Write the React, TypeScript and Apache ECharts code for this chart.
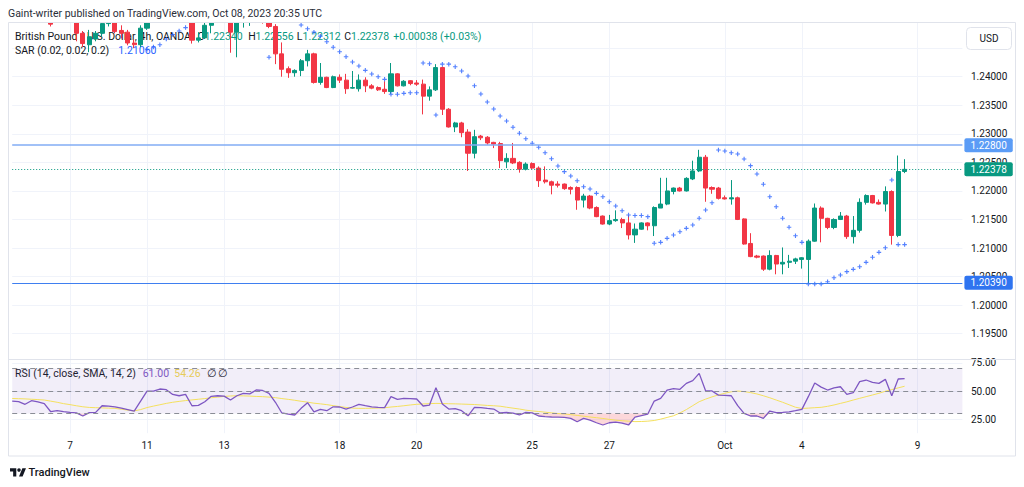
import React, { useEffect, useRef } from "react";
import * as echarts from "echarts";

// ---------- data (4h bars, GBP/USD, OANDA) ----------
// [open, high, low, close]
const candles: number[][] = [
  [1.2560,1.2575,1.2550,1.2556],[1.2556,1.2562,1.2546,1.2553],[1.2553,1.2560,1.2540,1.2545],[1.2545,1.2560,1.2542,1.2554],
  [1.2554,1.2558,1.2540,1.2546],[1.2546,1.2550,1.2528,1.2534],[1.2534,1.2538,1.2488,1.2492],[1.2497,1.2508,1.2497,1.2500],
  [1.2500,1.2506,1.2497,1.2498],[1.2498,1.2508,1.2494,1.2503],[1.2503,1.2506,1.2462,1.2476],[1.2476,1.2480,1.2452,1.2458],
  [1.2456,1.2482,1.2443,1.2470],[1.2466,1.2480,1.2462,1.2476],[1.2476,1.2500,1.2470,1.2493],[1.2493,1.2508,1.2488,1.2498],
  [1.2498,1.2503,1.2476,1.2479],[1.2481,1.2490,1.2467,1.2476],[1.2478,1.2482,1.2455,1.2459],[1.2459,1.2465,1.2450,1.2456],
  [1.2456,1.2490,1.2452,1.2485],[1.2485,1.2520,1.2482,1.2512],[1.2512,1.2525,1.2505,1.2514],[1.2514,1.2530,1.2508,1.2522],
  [1.2522,1.2535,1.2512,1.2518],[1.2518,1.2522,1.2502,1.2506],[1.2506,1.2512,1.2498,1.2502],[1.2502,1.2512,1.2499,1.2507],
  [1.2507,1.2512,1.2458,1.2464],[1.2464,1.2478,1.2460,1.2468],[1.2468,1.2496,1.2466,1.2490],[1.2490,1.2508,1.2476,1.2504],
  [1.2504,1.2512,1.2494,1.2508],[1.2508,1.2515,1.2500,1.2506],[1.2506,1.2510,1.2442,1.2478],[1.2478,1.2500,1.2434,1.2496],
  [1.2496,1.2510,1.2486,1.2502],[1.2502,1.2508,1.2489,1.2505],[1.2505,1.2520,1.2494,1.2498],[1.2498,1.2512,1.2493,1.2496],
  [1.2496,1.2506,1.2485,1.2488],[1.2488,1.2492,1.2422,1.2440],[1.2440,1.2460,1.2400,1.2413],[1.2414,1.2418,1.2398,1.2407],
  [1.2407,1.2413,1.2400,1.2411],[1.2411,1.2431,1.2401,1.2428],[1.2428,1.2447,1.2418,1.2440],[1.2440,1.2442,1.2388,1.2390],
  [1.2390,1.2424,1.2386,1.2399],[1.2399,1.2400,1.2380,1.2381],[1.2381,1.2402,1.2380,1.2400],[1.2399,1.2404,1.2389,1.2394],
  [1.2394,1.2405,1.2370,1.2379],[1.2380,1.2410,1.2379,1.2381],[1.2379,1.2404,1.2374,1.2394],[1.2394,1.2399,1.2373,1.2384],
  [1.2384,1.2387,1.2378,1.2380],[1.2381,1.2383,1.2375,1.2377],[1.2378,1.2392,1.2370,1.2374],[1.2374,1.2424,1.2370,1.2405],
  [1.2405,1.2406,1.2383,1.2384],[1.2384,1.2394,1.2383,1.2392],[1.2393,1.2394,1.2385,1.2388],[1.2389,1.2394,1.2384,1.2387],
  [1.2387,1.2395,1.2334,1.2366],[1.2366,1.2383,1.2358,1.2377],[1.2377,1.2422,1.2375,1.2416],[1.2416,1.2418,1.2333,1.2343],
  [1.2343,1.2345,1.2311,1.2312],[1.2312,1.2321,1.2303,1.2319],[1.2319,1.2321,1.2294,1.2302],[1.2303,1.2308,1.2235,1.2266],
  [1.2266,1.2307,1.2257,1.2295],[1.2296,1.2298,1.2289,1.2293],[1.2294,1.2296,1.2281,1.2284],[1.2285,1.2286,1.2275,1.2282],
  [1.2283,1.2286,1.2240,1.2253],[1.2251,1.2266,1.2240,1.2257],[1.2257,1.2284,1.2247,1.2249],[1.2250,1.2252,1.2232,1.2238],
  [1.2238,1.2250,1.2236,1.2247],[1.2248,1.2250,1.2238,1.2240],[1.2240,1.2243,1.2207,1.2218],[1.2219,1.2243,1.2213,1.2216],
  [1.2216,1.2218,1.2194,1.2210],[1.2212,1.2217,1.2206,1.2210],[1.2212,1.2213,1.2202,1.2204],[1.2206,1.2208,1.2194,1.2203],
  [1.2206,1.2208,1.2167,1.2184],[1.2184,1.2195,1.2171,1.2191],[1.2191,1.2193,1.2168,1.2170],[1.2171,1.2173,1.2154,1.2155],
  [1.2156,1.2157,1.2141,1.2142],[1.2142,1.2158,1.2140,1.2148],[1.2148,1.2166,1.2146,1.2150],[1.2150,1.2153,1.2135,1.2144],
  [1.2144,1.2157,1.2115,1.2123],[1.2123,1.2143,1.2109,1.2133],[1.2133,1.2145,1.2132,1.2144],[1.2144,1.2145,1.2131,1.2139],
  [1.2139,1.2173,1.2121,1.2171],[1.2170,1.2223,1.2170,1.2177],[1.2177,1.2223,1.2175,1.2200],[1.2199,1.2206,1.2194,1.2205],
  [1.2205,1.2207,1.2199,1.2200],[1.2200,1.2224,1.2199,1.2222],[1.2221,1.2253,1.2219,1.2235],[1.2235,1.2272,1.2233,1.2259],
  [1.2259,1.2263,1.2181,1.2205],[1.2206,1.2208,1.2195,1.2203],[1.2205,1.2207,1.2185,1.2187],[1.2188,1.2192,1.2185,1.2186],
  [1.2186,1.2219,1.2176,1.2188],[1.2188,1.2190,1.2149,1.2150],[1.2151,1.2152,1.2106,1.2107],[1.2108,1.2126,1.2084,1.2085],
  [1.2086,1.2088,1.2082,1.2084],[1.2086,1.2087,1.2060,1.2063],[1.2063,1.2096,1.2061,1.2087],[1.2087,1.2088,1.2054,1.2072],
  [1.2072,1.2101,1.2054,1.2075],[1.2075,1.2088,1.2065,1.2077],[1.2077,1.2083,1.2072,1.2081],[1.2080,1.2084,1.2064,1.2083],
  [1.2080,1.2115,1.2037,1.2112],[1.2112,1.2178,1.2111,1.2170],[1.2170,1.2173,1.2110,1.2152],[1.2152,1.2153,1.2133,1.2136],
  [1.2136,1.2152,1.2133,1.2150],[1.2150,1.2163,1.2149,1.2156],[1.2156,1.2158,1.2116,1.2120],[1.2120,1.2156,1.2108,1.2131],
  [1.2131,1.2187,1.2127,1.2180],[1.2180,1.2194,1.2176,1.2192],[1.2192,1.2193,1.2178,1.2179],[1.2180,1.2185,1.2176,1.2177],
  [1.2177,1.2208,1.2164,1.2199],[1.2199,1.2201,1.2106,1.2122],[1.2122,1.2262,1.2119,1.2234],[1.22340,1.22556,1.22312,1.22378],
];

const sarValues: number[] = [
  1.2620,1.2612,1.2605,1.2598,1.2591,1.2584,1.2577,1.2570,1.2563,1.2557,
  1.2551,1.2545,1.2540,1.2535,1.2530,1.2526,1.2522,1.2518,1.2515,1.2512,
  1.2510,1.2448,1.2452,1.2456,1.2466,1.2474,1.2480,1.2486,1.2535,1.2533,
  1.2530,1.2528,1.2526,1.2524,1.2522,1.2521,1.2520,1.2519,1.2518,1.2517,
  1.2434,1.2520,1.2512,1.2505,1.2499,1.24905,1.2484,1.2478,1.2471,1.24613,
  1.24515,1.24438,1.2435,1.24257,1.24187,1.24112,1.24047,1.2400,1.23954,1.23692,
  1.23692,1.23709,1.2372,1.2372,1.2424,1.24228,1.2333,1.2422,1.2422,1.24175,
  1.2410,1.24012,1.23842,1.23697,1.23557,1.23434,1.23312,1.23224,1.23114,1.23009,
  1.22914,1.22834,1.22764,1.22669,1.22564,1.22436,1.22337,1.22261,1.22179,1.22074,
  1.22034,1.21958,1.21899,1.21811,1.21736,1.21654,1.21578,1.2157,1.2157,1.2155,
  1.21083,1.2110,1.2117,1.21228,1.21286,1.21345,1.21403,1.21521,1.21666,1.21794,
  1.22717,1.2270,1.22669,1.22646,1.22559,1.22442,1.22296,1.22116,1.21899,1.21724,
  1.21521,1.21363,1.21216,1.2110,1.2037,1.2037,1.2037,1.2041,1.2048,1.20528,
  1.20586,1.20627,1.20673,1.2075,1.20838,1.20925,1.21006,1.22191,1.2106,1.2106,
];

const rsiValues: number[] = [
  41.1,40.5,38.2,41.4,40.3,38.8,31.6,32.5,31.6,31.0,
  30.5,27.8,30.8,31.0,36.9,36.5,36.0,34.8,33.5,32.2,
  41.0,50.0,50.0,51.8,51.2,47.0,45.8,47.0,36.9,37.2,
  40.5,45.3,45.8,45.5,42.0,45.8,48.0,47.5,50.9,50.5,
  48.0,40.0,30.5,29.5,28.7,34.6,39.6,31.5,33.7,32.5,
  36.0,35.8,33.9,35.8,38.2,37.0,36.0,35.4,35.2,45.0,
  42.6,43.5,43.2,42.9,36.7,37.5,52.9,38.5,34.0,34.3,
  32.5,28.0,35.5,35.2,34.5,34.0,30.5,30.9,30.4,28.7,
  31.0,30.5,27.8,27.3,26.9,26.8,26.5,25.7,22.7,25.7,
  24.2,21.8,19.8,21.8,22.4,21.5,19.8,26.8,28.2,29.5,
  41.1,43.5,50.9,52.1,51.5,56.8,59.2,65.7,50.3,50.1,
  46.4,46.2,45.8,37.0,30.2,27.8,27.8,25.7,32.2,30.7,
  31.0,31.5,32.5,33.7,45.0,57.2,53.5,50.9,52.9,53.8,
  47.0,48.5,58.3,59.8,57.7,56.8,60.4,45.8,60.7,61.0,
];

const rsiMaValues: number[] = [
  43.4,43.2,43.0,42.7,42.4,42.0,41.0,40.0,38.8,37.9,
  36.9,36.0,35.4,35.2,35.0,34.8,34.6,33.8,33.0,32.3,
  33.5,35.3,36.6,37.8,39.0,40.0,40.8,41.5,42.1,42.7,
  43.3,44.0,44.6,45.2,45.6,45.8,45.7,45.5,45.2,45.0,
  44.6,44.1,43.3,42.6,41.8,40.9,40.1,39.2,38.6,37.9,
  37.0,36.2,35.4,34.8,34.6,34.6,34.7,34.9,35.1,35.8,
  36.3,36.9,37.6,38.2,38.5,38.8,39.0,38.9,38.7,38.6,
  38.4,38.2,38.0,37.6,37.2,36.9,36.5,35.6,34.8,34.0,
  33.0,32.3,31.8,31.2,30.6,30.0,29.6,29.0,28.3,27.6,
  26.9,26.3,25.6,24.8,24.1,23.6,23.2,22.8,22.9,23.2,
  23.8,25.0,26.5,28.0,30.5,33.5,37.0,40.5,42.8,44.8,
  46.6,48.0,49.3,50.0,49.5,48.6,47.4,45.8,44.0,42.0,
  40.0,37.8,35.6,34.5,34.8,35.2,35.5,36.4,37.6,39.0,
  40.4,42.0,43.5,45.0,46.5,48.0,49.8,51.3,52.8,54.26,
];

const keyLevels: number[] = [1.228, 1.2039];
const rsiLevels: number[] = [70, 50, 30];
const rsiAxisLabels: number[] = [25, 50, 75];
const tickDates: string[] = ["2023-09-07","2023-09-11","2023-09-13","2023-09-18","2023-09-20","2023-09-25","2023-09-27","2023-10-02","2023-10-04","2023-10-09"];
const tickTexts: string[] = ["7","11","13","18","20","25","27","Oct","4","9"];
const FIRST_BAR_UTC = Date.UTC(2023, 8, 5, 13);
const FUTURE_SLOTS = 9;

const HEADER = "Gaint-writer published on TradingView.com, Oct 08, 2023 20:35 UTC";
const SYMBOL_TITLE = "British Pound / U.S. Dollar, 4h, OANDA";
const SAR_TITLE = "SAR (0.02, 0.02, 0.2)";
const RSI_TITLE = "RSI (14, close, SMA, 14, 2)";

// ---------- helpers ----------
function buildSlots(count: number): string[] {
  const out: string[] = [];
  let t = FIRST_BAR_UTC;
  const step = 4 * 3600 * 1000;
  while (out.length < count) {
    const d = new Date(t);
    const dow = d.getUTCDay();
    const h = d.getUTCHours();
    const closed = (dow === 5 && h >= 21) || dow === 6 || (dow === 0 && h < 21);
    if (!closed) out.push(d.toISOString().slice(0, 13));
    t += step;
  }
  return out;
}

const UP = "#089981";
const DOWN = "#f23645";
const GRID = "#f0f3fa";
const BORDER = "#e0e3eb";
const TEXT = "#131722";
const FONT = "Roboto";

let logoRegistered = false;

export default function App() {
  const ref = useRef<HTMLDivElement>(null);

  useEffect(() => {
    if (!ref.current) return;
    if (!logoRegistered) {
      echarts.graphic.registerShape(
        "tvlogo",
        echarts.graphic.extendPath(
          "M14 22H7V11H0V4h14v18zM28 22h-8l7.5-18h8L28 22zM24 8a4 4 0 1 1-8 0a4 4 0 1 1 8 0z",
          {}
        )
      );
      logoRegistered = true;
    }
    const chart = echarts.init(ref.current, undefined, { renderer: "svg" });

    const slots = buildSlots(candles.length + FUTURE_SLOTS);
    const tickMap: Record<string, string> = {};
    tickDates.forEach((d, i) => (tickMap[d + "T01"] = tickTexts[i]));
    const isTick = (_idx: number, val: string) => tickMap[val] !== undefined;

    const last = candles[candles.length - 1];
    const prevClose = candles[candles.length - 2][3];
    const change = last[3] - prevClose;
    const pct = (change / prevClose) * 100;
    const lastSar = sarValues[sarValues.length - 1];
    const lastRsi = rsiValues[rsiValues.length - 1];
    const lastMa = rsiMaValues[rsiMaValues.length - 1];

    const gridLeft = 12.2;
    const gridRight = 61.6;

    const txt = (x: number, y: number, text: string, fill: string, fontSize = 10.5, extra: any = {}, z = 1) => ({
      type: "text",
      x,
      y,
      z,
      silent: true,
      style: { text, fill, fontSize, fontFamily: FONT, verticalAlign: "middle", align: "left", ...extra },
    });

    const option: any = {
      animation: false,
      backgroundColor: "#ffffff",
      grid: [
        { left: gridLeft, right: gridRight, top: 22, height: 337, outerBoundsMode: "none", containLabel: false },
        { left: gridLeft, right: gridRight, top: 360, height: 73.2, outerBoundsMode: "none", containLabel: false },
      ],
      xAxis: [
        {
          type: "category",
          gridIndex: 0,
          data: slots,
          boundaryGap: false,
          axisLine: { show: false },
          axisTick: { show: false },
          axisLabel: { show: false },
          splitLine: { show: true, interval: isTick, lineStyle: { color: GRID, width: 1 } },
        },
        {
          type: "category",
          gridIndex: 1,
          data: slots,
          boundaryGap: false,
          axisLine: { show: false },
          axisTick: { show: false },
          axisLabel: {
            show: true,
            interval: isTick,
            formatter: (v: string) => tickMap[v] ?? "",
            color: TEXT,
            fontSize: 10,
            fontFamily: FONT,
            margin: 7,
          },
          splitLine: { show: true, interval: isTick, lineStyle: { color: GRID, width: 1 } },
        },
      ],
      yAxis: [
        {
          type: "value",
          gridIndex: 0,
          position: "right",
          min: 1.19057,
          max: 1.24958,
          splitNumber: 12,
          axisLine: { show: false },
          axisTick: { show: false },
          splitLine: { show: true, lineStyle: { color: GRID, width: 1 } },
          axisLabel: {
            color: TEXT,
            fontSize: 10,
            fontFamily: FONT,
            margin: 8.6,
            showMinLabel: false,
            showMaxLabel: false,
            formatter: (v: number) => (v > 1.2426 ? "" : v.toFixed(5)),
          },
        },
        {
          type: "value",
          gridIndex: 1,
          position: "right",
          min: 12.5,
          max: 77.6,
          interval: 12.5,
          axisLine: { show: false },
          axisTick: { show: false },
          splitLine: {
            show: true,
            lineStyle: { color: ["transparent", GRID, "transparent", GRID, "transparent", GRID, "transparent"] },
          },
          axisLabel: {
            color: TEXT,
            fontSize: 10,
            fontFamily: FONT,
            margin: 8.6,
            showMaxLabel: false,
            formatter: (v: number) => (rsiAxisLabels.indexOf(v) >= 0 ? v.toFixed(2) : ""),
          },
        },
      ],
      series: [
        {
          type: "candlestick",
          xAxisIndex: 0,
          yAxisIndex: 0,
          clip: true,
          barWidth: 4.6,
          data: candles.map(([o, h, l, c]) => [o, c, l, h]),
          itemStyle: { color: UP, color0: DOWN, borderColor: UP, borderColor0: DOWN, borderWidth: 1 },
          z: 3,
        },
        {
          type: "scatter",
          xAxisIndex: 0,
          yAxisIndex: 0,
          clip: true,
          symbol: "path://M1.5,0H2.5V1.5H4V2.5H2.5V4H1.5V2.5H0V1.5H1.5Z",
          symbolSize: 4.5,
          itemStyle: { color: "#2962ff" },
          data: sarValues,
          z: 4,
        },
        {
          type: "line",
          xAxisIndex: 0,
          yAxisIndex: 0,
          data: [],
          clip: false,
          z: 5,
          markLine: {
            silent: true,
            precision: 5,
            symbol: ["none", "none"],
            label: {
              show: true,
              position: "end",
              distance: 2,
              formatter: (p: any) => Number(p.value).toFixed(5),
              color: "#ffffff",
              fontSize: 10,
              fontFamily: FONT,
              padding: [2, 6, 2, 6],
              borderRadius: 2,
            },
            data: [
              { yAxis: keyLevels[0], lineStyle: { color: "#82acf5", width: 1.5, type: "solid" }, label: { backgroundColor: "#5b9cf6" } },
              { yAxis: keyLevels[1], lineStyle: { color: "#3f7ff0", width: 1.2, type: "solid" }, label: { backgroundColor: "#2f74f0" } },
              { yAxis: last[3], lineStyle: { color: UP, width: 1, type: [1, 2] }, label: { backgroundColor: UP } },
            ],
          },
        },
        {
          type: "line",
          xAxisIndex: 1,
          yAxisIndex: 1,
          stack: "os",
          data: rsiValues.map((v) => Math.min(v, 30)),
          showSymbol: false,
          lineStyle: { width: 0, opacity: 0 },
          silent: true,
          z: 2,
        },
        {
          type: "line",
          xAxisIndex: 1,
          yAxisIndex: 1,
          stack: "os",
          data: rsiValues.map((v) => 30 - Math.min(v, 30)),
          showSymbol: false,
          lineStyle: { width: 0, opacity: 0 },
          areaStyle: { color: "rgba(242,54,69,0.2)", opacity: 1 },
          silent: true,
          z: 2,
        },
        {
          type: "line",
          xAxisIndex: 1,
          yAxisIndex: 1,
          data: rsiValues,
          showSymbol: false,
          lineStyle: { color: "#7e57c2", width: 1.3 },
          z: 4,
          markArea: {
            silent: true,
            itemStyle: { color: "rgba(126,87,194,0.1)" },
            data: [[{ yAxis: rsiLevels[0] }, { yAxis: rsiLevels[2] }]],
          },
          markLine: {
            silent: true,
            symbol: ["none", "none"],
            label: { show: false },
            lineStyle: { color: "#8a8d96", width: 1, type: [5, 4] },
            data: rsiLevels.map((v) => ({ yAxis: v })),
          },
        },
        {
          type: "line",
          xAxisIndex: 1,
          yAxisIndex: 1,
          data: rsiMaValues,
          showSymbol: false,
          lineStyle: { color: "#f4e05e", width: 1 },
          z: 3,
        },
      ],
      graphic: [
        { type: "rect", silent: true, z: 100, shape: { x: 0, y: 0, width: 1024, height: 22 }, style: { fill: "#ffffff" } },
        { type: "rect", silent: true, z: 101, shape: { x: 8.5, y: 22.5, width: 1007, height: 433.5 }, style: { fill: "none", stroke: BORDER, lineWidth: 1 } },
        { type: "line", silent: true, z: 101, shape: { x1: 8, y1: 359.5, x2: 1016, y2: 359.5 }, style: { stroke: BORDER, lineWidth: 1 } },
        { type: "rect", silent: true, shape: { x: 966.5, y: 27.5, width: 45, height: 22, r: 4 }, style: { fill: "#ffffff", stroke: BORDER, lineWidth: 1 } },
        txt(989, 38.5, "USD", TEXT, 10, { align: "center" }),
        txt(8, 13, HEADER, "#2a2e39", 10.5, {}, 102),
        txt(15, 36, SYMBOL_TITLE, TEXT, 10.5),
        txt(197.5, 36, "O", TEXT, 10.5),
        txt(204.5, 36, last[0].toFixed(5), UP, 10.5),
        txt(248.3, 36, "H", TEXT, 10.5),
        txt(255.5, 36, last[1].toFixed(5), UP, 10.5),
        txt(296.7, 36, "L", TEXT, 10.5),
        txt(302.5, 36, last[2].toFixed(5), UP, 10.5),
        txt(344.3, 36, "C", TEXT, 10.5),
        txt(351, 36, last[3].toFixed(5), UP, 10.5),
        txt(393.3, 36, `${change >= 0 ? "+" : ""}${change.toFixed(5)} (${pct >= 0 ? "+" : ""}${pct.toFixed(2)}%)`, UP, 10.5),
        txt(15, 50.5, SAR_TITLE, TEXT, 10.5),
        txt(118.3, 50.5, lastSar.toFixed(5), "#2962ff", 10.5),
        txt(15, 373, RSI_TITLE, TEXT, 10.5),
        txt(142.7, 373, lastRsi.toFixed(2), "#7e57c2", 10.5),
        txt(174.3, 373, lastMa.toFixed(2), "#f2d94e", 10.5),
        txt(206.7, 373, "∅", TEXT, 10.5),
        txt(218, 373, "∅", TEXT, 10.5),
        { type: "tvlogo", x: 10, y: 466.5, scaleX: 0.45, scaleY: 0.45, silent: true, style: { fill: TEXT } },
        txt(28.5, 472, "TradingView", TEXT, 11, { fontWeight: 500 }),
      ],
    };

    chart.setOption(option);
    return () => chart.dispose();
  }, []);

  return (
    <div
      ref={ref}
      style={{ position: "fixed", left: 0, top: 0, width: 1024, height: 487, background: "#fff" }}
    />
  );
}
